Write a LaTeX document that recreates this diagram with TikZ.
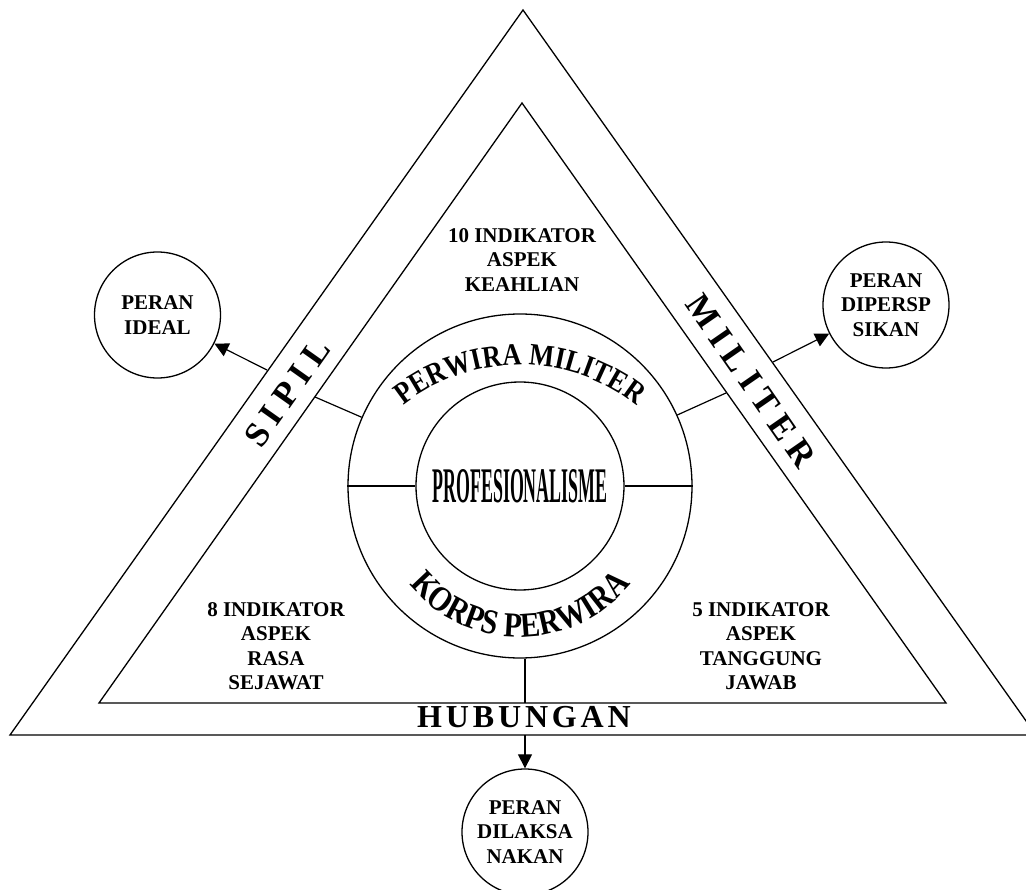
\documentclass[tikz,border=0pt]{standalone}
\usepackage{fontspec}
\usepackage{graphicx}
\setmainfont{Liberation Serif}
\newfontfamily\arcfont{Liberation Serif Bold}[FakeStretch=0.85]
\newfontfamily\sidefont{Liberation Serif Bold}[LetterSpace=22]
\newfontfamily\hubfont{Liberation Serif Bold}[LetterSpace=12]
\usetikzlibrary{arrows.meta, decorations.text}
\newcommand\toparc{\arcfont\fontsize{31}{31}\selectfont}
\newcommand\botarc{\arcfont\fontsize{35}{35}\selectfont}

\begin{document}
\begin{tikzpicture}[
  x=1pt, y=-1pt,
  every node/.style={inner sep=0pt},
  edge/.style={line width=1.3pt, line join=miter},
  ring/.style={draw, circle, line width=1.3pt, inner sep=0pt},
  lbl/.style={font=\fontsize{21}{24.5}\selectfont\bfseries, align=center},
  peran/.style={ring, lbl, minimum size=126pt},
  side/.style={font=\sidefont\fontsize{35}{35}\selectfont},
  link/.style={line width=1.2pt},
  arr/.style={-{Triangle[length=14pt, width=14pt]}, line width=1.2pt}
]
  \useasboundingbox (0,0) rectangle (1026,890);

  % ---- outer and inner triangle ----
  \draw[edge] (523,10) -- (10,735) -- (1036,735) -- cycle;
  \draw[edge] (522,103) -- (99,703) -- (946,703) -- cycle;

  % ---- rings in the middle ----
  \node[ring, minimum size=344pt] (big)  at (520,486) {};
  \node[ring, minimum size=208pt] (core) at (520,486)
    {\resizebox{175pt}{33pt}{\bfseries PROFESIONALISME}};
  \draw[link] (big.west) -- (core.west);
  \draw[link] (core.east) -- (big.east);

  % ---- curved titles on the ring ----
  \coordinate (topc) at (520,552);
  \coordinate (botc) at (520,495);
  \path[decorate, decoration={text along path, text align=center,
        text={|\toparc|PERWIRA MILITER}}]
    ([shift={(-140:187)}]topc) arc[start angle=-140, end angle=-40, radius=187];
  \path[decorate, decoration={text along path, text align=center,
        text={|\botarc|KORPS PERWIRA}}]
    ([shift={(150:142)}]botc) arc[start angle=150, end angle=30, radius=142];

  % ---- indicator texts ----
  \node[lbl] (ahli)   at (522,260) {10 INDIKATOR\\ASPEK\\KEAHLIAN};
  \node[lbl] (sejawat) at (276,646) {8 INDIKATOR\\ASPEK\\RASA\\SEJAWAT};
  \node[lbl] (jawab)  at (761,646) {5 INDIKATOR\\ASPEK\\TANGGUNG\\JAWAB};

  % ---- side names ----
  \node[side, rotate=54.7]  (sipil)   at (287,393) {SIPIL};
  \node[side, rotate=-55.3] (militer) at (751,381) {MILITER};
  \node[font=\hubfont\fontsize{32}{32}\selectfont] (hub) at (524,717.5) {HUBUNGAN};

  % ---- role circles ----
  \node[peran] (ideal)   at (157.5,315) {PERAN\\IDEAL};
  \node[peran] (dipersp) at (886,305)   {PERAN\\DIPERSP\\SIKAN};
  \node[peran] (dilaksa) at (525,832)   {PERAN\\DILAKSA\\NAKAN};

  % ---- connectors across the band ----
  \coordinate (iL) at (315,397);
  \coordinate (oL) at (267,370);
  \coordinate (iR) at (726,393);
  \coordinate (oR) at (773,362);
  \coordinate (iB) at (525,703);
  \coordinate (oB) at (525,735);

  \draw[link] (big) -- (iL);
  \draw[arr] (oL) -- (ideal);
  \draw[link] (big) -- (iR);
  \draw[arr] (oR) -- (dipersp);
  \draw[link] (iB |- big.south) -- (iB);
  \draw[arr] (oB) -- (dilaksa);
\end{tikzpicture}
\end{document}
